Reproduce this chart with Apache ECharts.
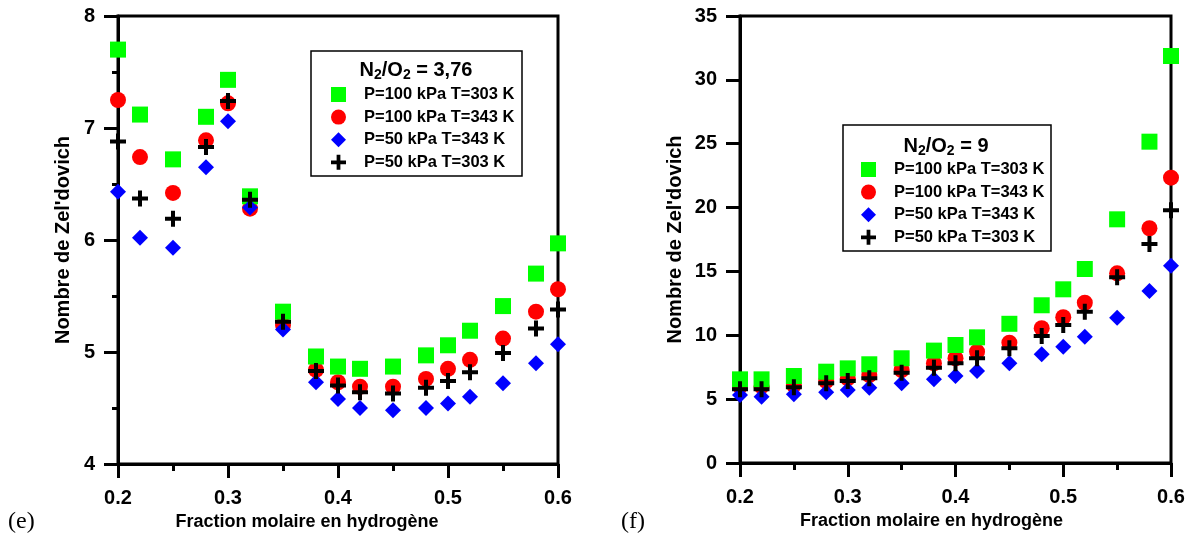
<!DOCTYPE html>
<html>
<head>
<meta charset="utf-8">
<script src="https://cdn.jsdelivr.net/npm/echarts@6/dist/echarts.min.js"></script>
<style>
html,body{margin:0;padding:0;background:#fff;}
#chart{width:1192px;height:538px;}
</style>
</head>
<body>
<div id="chart"></div>
<script>
// ---- data ----
const xValues = [0.2, 0.22, 0.25, 0.28, 0.3, 0.32, 0.35, 0.38, 0.4, 0.42, 0.45, 0.48, 0.5, 0.52, 0.55, 0.58, 0.6];
const seriesNames = ['P=100 kPa T=303 K', 'P=100 kPa T=343 K', 'P=50 kPa T=343 K', 'P=50 kPa T=303 K'];

// (e) N2/O2 = 3,76
const e_p100_t303 = [7.70, 7.12, 6.72, 7.10, 7.43, 6.39, 5.36, 4.96, 4.87, 4.85, 4.87, 4.97, 5.06, 5.19, 5.41, 5.70, 5.97];
const e_p100_t343 = [7.25, 6.74, 6.42, 6.89, 7.22, 6.28, 5.24, 4.84, 4.73, 4.69, 4.69, 4.76, 4.85, 4.93, 5.12, 5.36, 5.56];
const e_p50_t343  = [6.43, 6.02, 5.93, 6.65, 7.06, 6.29, 5.20, 4.73, 4.58, 4.50, 4.48, 4.50, 4.54, 4.60, 4.72, 4.90, 5.07];
const e_p50_t303  = [6.88, 6.37, 6.19, 6.83, 7.24, 6.36, 5.27, 4.83, 4.70, 4.64, 4.63, 4.68, 4.74, 4.82, 4.99, 5.21, 5.38];

// (f) N2/O2 = 9
const f_p100_t303 = [6.55, 6.55, 6.81, 7.15, 7.41, 7.73, 8.20, 8.80, 9.24, 9.84, 10.90, 12.35, 13.60, 15.19, 19.08, 25.16, 31.87];
const f_p100_t343 = [6.00, 6.00, 6.10, 6.42, 6.63, 6.89, 7.28, 7.81, 8.20, 8.72, 9.42, 10.55, 11.41, 12.55, 14.85, 18.38, 22.34];
const f_p50_t343  = [5.32, 5.19, 5.38, 5.54, 5.72, 5.90, 6.24, 6.55, 6.81, 7.20, 7.81, 8.51, 9.11, 9.89, 11.38, 13.47, 15.45];
const f_p50_t303  = [5.77, 5.77, 5.93, 6.24, 6.42, 6.63, 7.07, 7.46, 7.81, 8.20, 8.98, 9.94, 10.80, 11.85, 14.54, 17.15, 19.80];

const xTitle = 'Fraction molaire en hydrogène';
const yTitle = "Nombre de Zel'dovich";

// ---- style ----
const FONT = "'Liberation Sans', Arial, sans-serif";
const SERIF = "'Liberation Serif', 'Times New Roman', serif";
const crossPath = 'path://M6,0h4v6h6v4h-6v6h-4v-6h-6v-4h6z';
const colors = ['#00ff00', '#ff0000', '#0000ff', '#000000'];
const symbols = ['rect', 'circle', 'diamond', crossPath];
const zOrder = [3, 2, 4, 5];

function pairs(ys) { return xValues.map((x, i) => [x, ys[i]]); }

function makeSeries(idx, arrays) {
  return arrays.map((ys, k) => ({
    type: 'scatter',
    name: seriesNames[k],
    xAxisIndex: idx, yAxisIndex: idx,
    data: pairs(ys),
    symbol: symbols[k],
    symbolSize: 16,
    itemStyle: { color: colors[k], opacity: 1 },
    z: zOrder[k],
    silent: true,
    animation: false
  }));
}

function xAxisCfg(idx, shift) {
  return {
    type: 'value', gridIndex: idx, min: 0.2, max: 0.6, interval: 0.1,
    name: xTitle, nameLocation: 'middle', nameGap: 49,
    nameTextStyle: { fontFamily: FONT, fontWeight: 'bold', fontSize: 18, color: '#000', padding: [0, shift, 0, 0] },
    axisLine: { show: true, onZero: false, lineStyle: { color: '#000', width: 3 } },
    axisTick: { show: true, inside: false, length: 14, lineStyle: { color: '#000', width: 3 } },
    minorTick: { show: true, splitNumber: 2, length: 7, lineStyle: { color: '#000', width: 3 } },
    axisLabel: { fontFamily: FONT, fontWeight: 'bold', fontSize: 20, color: '#000', margin: 24,
      formatter: v => v.toFixed(1) },
    splitLine: { show: false }
  };
}

function yAxisCfg(idx, min, max, interval, minor, gap) {
  return {
    type: 'value', gridIndex: idx, min: min, max: max, interval: interval,
    name: yTitle, nameLocation: 'middle', nameGap: gap, nameRotate: 90,
    nameTextStyle: { fontFamily: FONT, fontWeight: 'bold', fontSize: 20, color: '#000' },
    axisLine: { show: true, onZero: false, lineStyle: { color: '#000', width: 3 } },
    axisTick: { show: true, inside: false, length: 14, lineStyle: { color: '#000', width: 3 } },
    minorTick: { show: minor, splitNumber: 2, length: 6, lineStyle: { color: '#000', width: 3 } },
    axisLabel: { fontFamily: FONT, fontWeight: 'bold', fontSize: 20, color: '#000', margin: 23 },
    splitLine: { show: false }
  };
}

function legendCfg(left, top) {
  return {
    orient: 'vertical', left: left, top: top,
    itemWidth: 15, itemHeight: 15, itemGap: 5.6,
    selectedMode: false,
    data: seriesNames.map((n, k) => ({ name: n, icon: symbols[k], itemStyle: { color: colors[k] } })),
    textStyle: { fontFamily: FONT, fontWeight: 'bold', fontSize: 16.5, color: '#000', padding: [0, 0, 0, 13] }
  };
}

function boxTitle(cx, cy, txt) {
  return {
    type: 'text', x: cx, y: cy,
    style: {
      text: '{b|N}{s|2}{b|/O}{s|2}{b| = ' + txt + '}', align: 'center', verticalAlign: 'middle',
      rich: {
        b: { fontFamily: FONT, fontWeight: 'bold', fontSize: 20, lineHeight: 24, fill: '#000' },
        s: { fontFamily: FONT, fontWeight: 'bold', fontSize: 14, fill: '#000', verticalAlign: 'bottom' }
      }
    }
  };
}

const chart = echarts.init(document.getElementById('chart'), null, { renderer: 'canvas' });
chart.setOption({
  backgroundColor: '#fff',
  animation: false,
  grid: [
    { left: 118, top: 16, width: 440, height: 448, show: true, borderColor: '#000', borderWidth: 3, containLabel: false },
    { left: 740, top: 16, width: 431, height: 447, show: true, borderColor: '#000', borderWidth: 3, containLabel: false }
  ],
  xAxis: [xAxisCfg(0, 62), xAxisCfg(1, 48)],
  yAxis: [yAxisCfg(0, 4, 8, 1, true, 45), yAxisCfg(1, 0, 35, 5, false, 55)],
  legend: [legendCfg(326, 81), legendCfg(856, 156)],
  series: [].concat(
    makeSeries(0, [e_p100_t303, e_p100_t343, e_p50_t343, e_p50_t303]),
    makeSeries(1, [f_p100_t303, f_p100_t343, f_p50_t343, f_p50_t303])
  ),
  graphic: [
    { type: 'rect', x: 311, y: 51, shape: { width: 211, height: 125 }, style: { fill: 'none', stroke: '#000', lineWidth: 1.5 }, z: 1 },
    { type: 'rect', x: 843, y: 125, shape: { width: 208, height: 126 }, style: { fill: 'none', stroke: '#000', lineWidth: 1.5 }, z: 1 },
    boxTitle(416, 70, '3,76'),
    boxTitle(946, 146, '9'),
    { type: 'text', x: 8, y: 522, style: { text: '(e)', fontFamily: SERIF, fontSize: 24, fill: '#000', verticalAlign: 'middle' } },
    { type: 'text', x: 621, y: 522, style: { text: '(f)', fontFamily: SERIF, fontSize: 24, fill: '#000', verticalAlign: 'middle' } }
  ]
});
</script>
</body>
</html>
